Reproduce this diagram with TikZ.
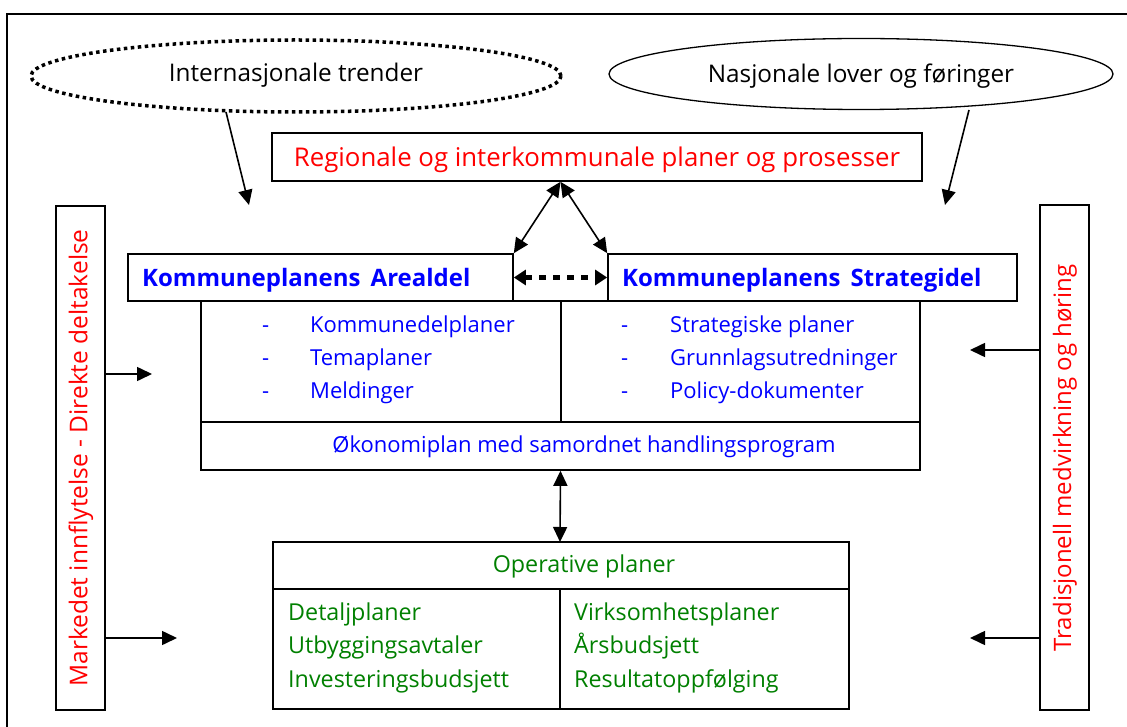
\documentclass[tikz,border=0pt]{standalone}
\usepackage{fontspec}
\setmainfont{Open Sans}
\usetikzlibrary{shapes.geometric,arrows.meta}
\definecolor{planred}{RGB}{255,0,0}
\definecolor{planblue}{RGB}{0,0,255}
\definecolor{plangreen}{RGB}{0,128,0}

\begin{document}
\begin{tikzpicture}[x=1pt,y=-1pt,
  box/.style={draw,line width=1.6pt,rectangle,inner sep=0pt},
  tip/.tip={Triangle[length=15pt,width=14pt]},
  conn/.style={line width=1.6pt,-tip},
  dconn/.style={line width=1.6pt,tip-tip},
  ellbox/.style={ellipse,draw,inner sep=0pt},
  elltxt/.style={inner sep=0pt,anchor=base,font=\fontsize{24.3}{28}\selectfont},
  redtxt/.style={text=planred,inner sep=0pt},
  headtxt/.style={text=planblue,inner sep=0pt,font=\fontsize{24}{28}\bfseries\selectfont},
  bluetxt/.style={text=planblue,inner sep=0pt,font=\fontsize{22}{26}\selectfont},
  greentxt/.style={text=plangreen,inner sep=0pt,font=\fontsize{23.3}{27}\selectfont},
]
\clip (0,0) rectangle (1127,727);
\fill[white] (0,0) rectangle (1127,727);
% outer frame (runs past the right and lower edge)
\draw[line width=1.4pt] (7,14) rectangle (1160,760);

% outside influences
\node[ellbox,line width=3.5pt,dash pattern=on 3.5pt off 3.5pt,minimum width=530pt,minimum height=72pt] (intl) at (296,76) {};
\node[elltxt] (intltxt) at (296,82) {Internasjonale trender};
\node[ellbox,line width=1.3pt,minimum width=504pt,minimum height=71pt] (nasj) at (861,74) {};
\node[elltxt] (nasjtxt) at (861,83) {Nasjonale lover og føringer};
\coordinate (intlend) at (249,205);
\coordinate (nasjend) at (945,205);
\draw[conn] (226,112) -- (intlend);
\draw[conn] (969,110) -- (nasjend);

% regional level
\node[box,minimum width=650pt,minimum height=48pt] (reg) at (597,157) {};
\node[redtxt,anchor=base,font=\fontsize{25.8}{30}\selectfont] (regtxt) at (597,167) {Regionale og interkommunale planer og prosesser};

% the two parts of the municipal plan
\node[box,minimum width=385pt,minimum height=47pt] (areal) at (320.5,277.5) {};
\node[headtxt,anchor=base west] (arealtxt) at (142,287) {Kommuneplanens\, Arealdel};
\node[box,minimum width=409pt,minimum height=47pt] (strat) at (812.5,277.5) {};
\node[headtxt,anchor=base west] (strattxt) at (622,287) {Kommuneplanens\, Strategidel};

\node[box,minimum width=719pt,minimum height=121pt] (lists) at (560.5,361.5) {};
\node[box,minimum width=719pt,minimum height=48pt] (oko) at (560.5,446) {};
\draw[line width=1.6pt] (561,301) -- (561,422);

\foreach \n/\y/\t in {a/332/Kommunedelplaner,b/365/Temaplaner,c/398/Meldinger}{
  \node[bluetxt,anchor=base west] (ld\n) at (262,\y) {-};
  \node[bluetxt,anchor=base west] (li\n) at (310,\y) {\t};
}
\foreach \n/\y/\t in {a/332/Strategiske planer,b/365/Grunnlagsutredninger,c/398/Policy-dokumenter}{
  \node[bluetxt,anchor=base west] (rd\n) at (621,\y) {-};
  \node[bluetxt,anchor=base west] (ri\n) at (670,\y) {\t};
}
\node[bluetxt,anchor=base] (okotxt) at (584,452) {Økonomiplan med samordnet handlingsprogram};

% links between the plan levels
\coordinate (apex) at (reg.south -| lists.north);
\draw[dconn] (apex) -- (areal.north east);
\draw[dconn] (apex) -- (strat.north west);
\draw[line width=4.5pt,dash pattern=on 7pt off 7pt,{Triangle[length=12pt,width=15pt]}-{Triangle[length=12pt,width=15pt]}]
  (areal.east) -- (strat.west);
\draw[dconn] (oko.south) -- (560,542);

% operative level
\node[box,minimum width=576pt,minimum height=47pt] (ophead) at (561,565.5) {};
\node[greentxt,anchor=base] (opheadtxt) at (584,572) {Operative planer};
\node[box,minimum width=576pt,minimum height=120pt] (opbody) at (561,649) {};
\draw[line width=1.6pt] (560,589) -- (560,709);
\foreach \n/\y/\t in {a/620/Detaljplaner,b/653/Utbyggingsavtaler,c/687/Investeringsbudsjett}{
  \node[greentxt,anchor=base west] (ol\n) at (288,\y) {\t};
}
\foreach \n/\y/\t in {a/620/Virksomhetsplaner,b/653/Årsbudsjett,c/687/Resultatoppfølging}{
  \node[greentxt,anchor=base west] (or\n) at (574,\y) {\t};
}

% participation channels at the sides
\node[box,minimum width=49pt,minimum height=504pt] (mark) at (80.5,458) {};
\node[redtxt,rotate=90,font=\fontsize{24.5}{28}\selectfont] (marktxt) at (81,458) {Markedet innflytelse - Direkte deltakelse};
\node[box,minimum width=49pt,minimum height=505pt] (trad) at (1064.5,457.5) {};
\node[redtxt,rotate=90,font=\fontsize{24}{28}\selectfont] (tradtxt) at (1065,458) {Tradisjonell medvirkning og høring};
\coordinate (markA) at (152,374);
\coordinate (markB) at (177,638);
\coordinate (tradA) at (970,350);
\coordinate (tradB) at (970,638);
\draw[conn] (mark.east |- markA) -- (markA);
\draw[conn] (mark.east |- markB) -- (markB);
\draw[conn] (trad.west |- tradA) -- (tradA);
\draw[conn] (trad.west |- tradB) -- (tradB);
\end{tikzpicture}
\end{document}
